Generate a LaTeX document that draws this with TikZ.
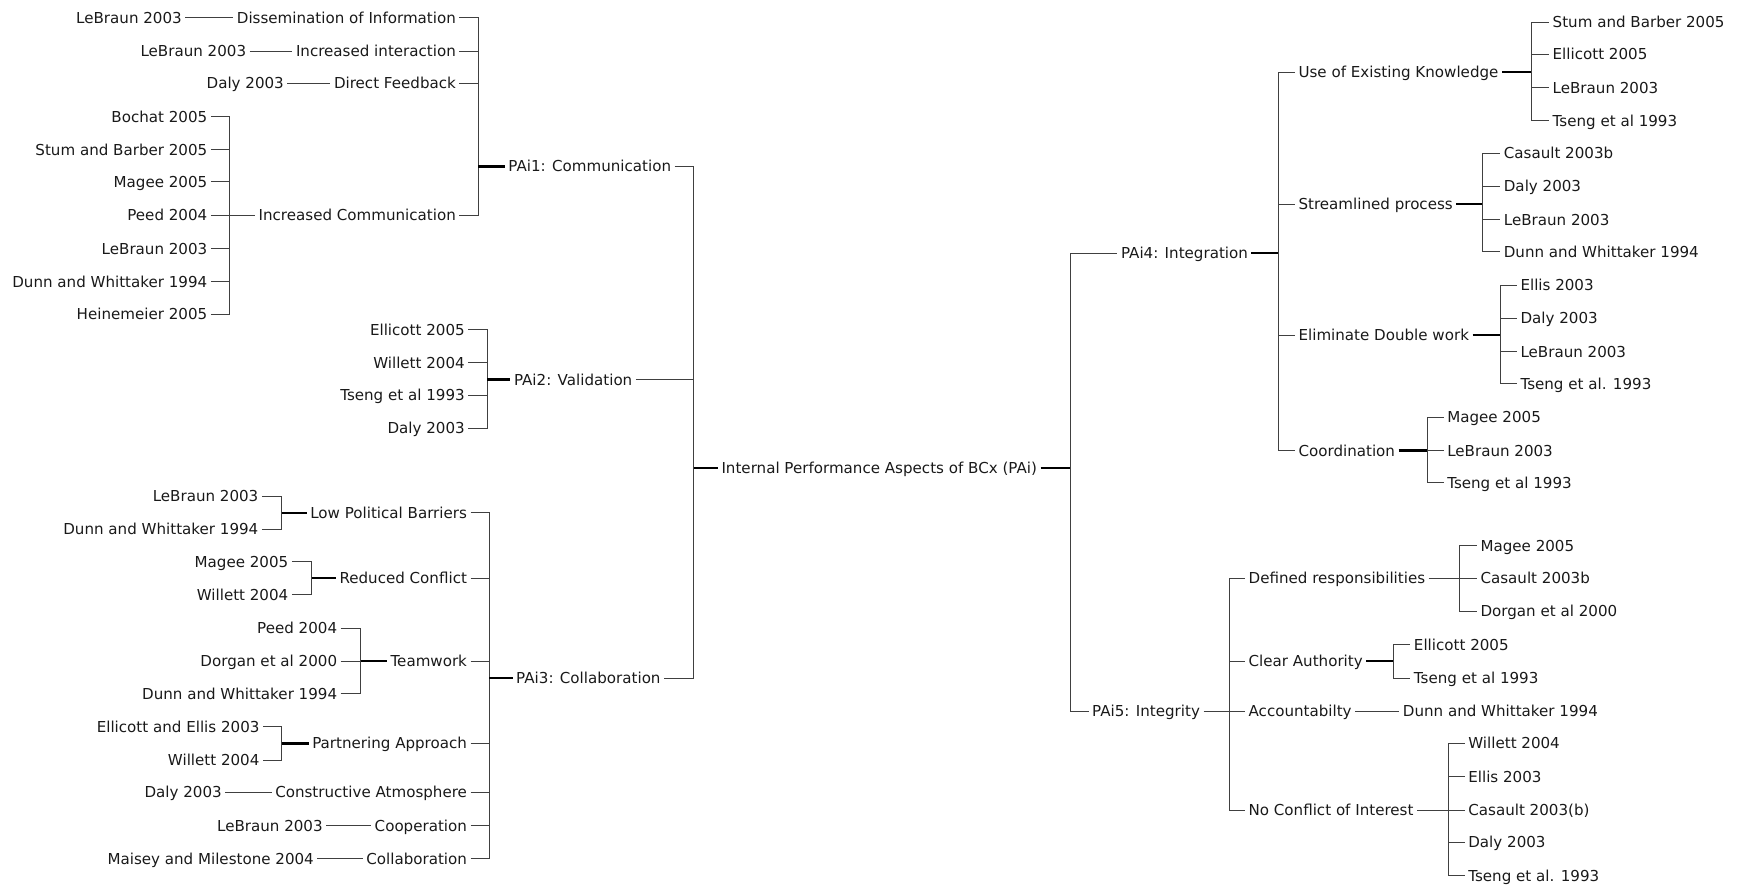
\documentclass[tikz,border=0pt]{standalone}
\usepackage{fontspec}
\setmainfont{DejaVu Sans}
\begin{document}
\begin{tikzpicture}[x=1pt,y=-1pt,
  lbl/.style={font=\fontsize{13.6}{16}\selectfont, text=black!90, inner xsep=3pt, inner ysep=0pt, text height=9.9pt, text depth=0pt},
  L/.style={lbl, anchor=east},
  R/.style={lbl, anchor=west},
  ln/.style={draw=black!75, line width=0.9pt},
  thk/.style={draw=black, line width=2pt}]
\useasboundingbox (0,0) rectangle (1568,800);

% ---------- PAi1: Communication ----------
\node[L] (disr) at (167,16) {LeBraun 2003};
\node[L] (dis)  at (414,16) {Dissemination of Information};
\node[L] (intr) at (225,46) {LeBraun 2003};
\node[L] (int)  at (414,46) {Increased interaction};
\node[L] (dfbr) at (259,75) {Daly 2003};
\node[L] (dfb)  at (414,75) {Direct Feedback};
\node[L] (icr1) at (190,105) {Bochat 2005};
\node[L] (icr2) at (190,135) {Stum and Barber 2005};
\node[L] (icr3) at (190,164) {Magee 2005};
\node[L] (icr4) at (190,194) {Peed 2004};
\node[L] (icr5) at (190,224) {LeBraun 2003};
\node[L] (icr6) at (190,254) {Dunn and Whittaker 1994};
\node[L] (icr7) at (190,283) {Heinemeier 2005};
\node[L] (ic)   at (414,194) {Increased Communication};
\coordinate (bic) at (207,0);
\coordinate (bp1) at (431,0);
\node[R] (pai1) at (455,150) {PAi1: Communication};

\draw[ln] (disr) -- (dis);
\draw[ln] (intr) -- (int);
\draw[ln] (dfbr) -- (dfb);
\foreach \c in {icr1,icr2,icr3,icr4,icr5,icr6,icr7}
  \draw[ln] (\c.east) -- (\c.east -| bic) -- (ic.west -| bic);
\draw[ln] (ic.west -| bic) -- (ic.west);
\foreach \c in {dis,int,dfb,ic}
  \draw[ln] (\c.east) -- (\c.east -| bp1) -- (pai1.west -| bp1);
\draw[thk] (pai1.west -| bp1) -- (pai1.west);

% ---------- PAi2: Validation ----------
\node[L] (va1) at (422,297) {Ellicott 2005};
\node[L] (va2) at (422,327) {Willett 2004};
\node[L] (va3) at (422,356) {Tseng et al 1993};
\node[L] (va4) at (422,386) {Daly 2003};
\coordinate (bp2) at (439,0);
\node[R] (pai2) at (460,342) {PAi2: Validation};
\foreach \c in {va1,va2,va3,va4}
  \draw[ln] (\c.east) -- (\c.east -| bp2) -- (pai2.west -| bp2);
\draw[thk] (pai2.west -| bp2) -- (pai2.west);

% ---------- PAi3: Collaboration ----------
\node[L] (lpb) at (424,462) {Low Political Barriers};
\node[L] (rco) at (424,521) {Reduced Conflict};
\node[L] (tmw) at (424,596) {Teamwork};
\node[L] (pap) at (424,670) {Partnering Approach};
\node[L] (cat) at (424,714) {Constructive Atmosphere};
\node[L] (coo) at (424,744) {Cooperation};
\node[L] (col) at (424,774) {Collaboration};
\coordinate (bp3) at (441,0);
\node[R] (pai3) at (462,611) {PAi3: Collaboration};

\node[L] (lpb1) at (236,447) {LeBraun 2003};
\node[L] (lpb2) at (236,477) {Dunn and Whittaker 1994};
\coordinate (blpb) at (254,0);
\node[L] (rco1) at (263,506) {Magee 2005};
\node[L] (rco2) at (263,536) {Willett 2004};
\coordinate (brco) at (281,0);
\node[L] (tmw1) at (307,566) {Peed 2004};
\node[L] (tmw2) at (307,596) {Dorgan et al 2000};
\node[L] (tmw3) at (307,625) {Dunn and Whittaker 1994};
\coordinate (btmw) at (325,0);
\node[L] (pap1) at (237,655) {Ellicott and Ellis 2003};
\node[L] (pap2) at (237,685) {Willett 2004};
\coordinate (bpap) at (254,0);
\node[L] (cat1) at (203,714) {Daly 2003};
\node[L] (coo1) at (294,744) {LeBraun 2003};
\node[L] (col1) at (286,774) {Maisey and Milestone 2004};

\foreach \c in {lpb1,lpb2}
  \draw[ln] (\c.east) -- (\c.east -| blpb) -- (lpb.west -| blpb);
\draw[thk] (lpb.west -| blpb) -- (lpb.west);
\foreach \c in {rco1,rco2}
  \draw[ln] (\c.east) -- (\c.east -| brco) -- (rco.west -| brco);
\draw[thk] (rco.west -| brco) -- (rco.west);
\foreach \c in {tmw1,tmw2,tmw3}
  \draw[ln] (\c.east) -- (\c.east -| btmw) -- (tmw.west -| btmw);
\draw[thk] (tmw.west -| btmw) -- (tmw.west);
\foreach \c in {pap1,pap2}
  \draw[ln] (\c.east) -- (\c.east -| bpap) -- (pap.west -| bpap);
\draw[thk] (pap.west -| bpap) -- (pap.west);
\draw[ln] (cat1) -- (cat);
\draw[ln] (coo1) -- (coo);
\draw[ln] (col1) -- (col);
\foreach \c in {lpb,rco,tmw,pap,cat,coo,col}
  \draw[ln] (\c.east) -- (\c.east -| bp3) -- (pai3.west -| bp3);
\draw[thk] (pai3.west -| bp3) -- (pai3.west);

% ---------- root ----------
\coordinate (b0) at (625,0);
\coordinate (bR) at (965,0);
\node[R] (root) at (647,422) {Internal Performance Aspects of BCx (PAi)};
\foreach \c in {pai1,pai2,pai3}
  \draw[ln] (\c.east) -- (\c.east -| b0) -- (root.west -| b0);
\draw[thk] (root.west -| b0) -- (root.west);
\draw[thk] (root.east) -- (root.east -| bR);

% ---------- PAi4: Integration ----------
\node[R] (pai4) at (1007,228) {PAi4: Integration};
\coordinate (bp4) at (1152,0);
\node[R] (uek) at (1167,65)  {Use of Existing Knowledge};
\node[R] (stp) at (1167,184) {Streamlined process};
\node[R] (edw) at (1167,302) {Eliminate Double work};
\node[R] (crd) at (1167,406) {Coordination};

\node[R] (uek1) at (1396,20)  {Stum and Barber 2005};
\node[R] (uek2) at (1396,49)  {Ellicott 2005};
\node[R] (uek3) at (1396,79)  {LeBraun 2003};
\node[R] (uek4) at (1396,109) {Tseng et al 1993};
\coordinate (buek) at (1380,0);
\node[R] (stp1) at (1352,138) {Casault 2003b};
\node[R] (stp2) at (1352,168) {Daly 2003};
\node[R] (stp3) at (1352,198) {LeBraun 2003};
\node[R] (stp4) at (1352,227) {Dunn and Whittaker 1994};
\coordinate (bstp) at (1336,0);
\node[R] (edw1) at (1367,257) {Ellis 2003};
\node[R] (edw2) at (1367,287) {Daly 2003};
\node[R] (edw3) at (1367,317) {LeBraun 2003};
\node[R] (edw4) at (1367,346) {Tseng et al. 1993};
\coordinate (bedw) at (1352,0);
\node[R] (crd1) at (1301,376) {Magee 2005};
\node[R] (crd2) at (1301,406) {LeBraun 2003};
\node[R] (crd3) at (1301,435) {Tseng et al 1993};
\coordinate (bcrd) at (1286,0);

\draw[thk] (pai4.east) -- (pai4.east -| bp4);
\foreach \c in {uek,stp,edw,crd}
  \draw[ln] (pai4.east -| bp4) -- (\c.west -| bp4) -- (\c.west);
\draw[thk] (uek.east) -- (uek.east -| buek);
\foreach \c in {uek1,uek2,uek3,uek4}
  \draw[ln] (uek.east -| buek) -- (\c.west -| buek) -- (\c.west);
\draw[thk] (stp.east) -- (stp.east -| bstp);
\foreach \c in {stp1,stp2,stp3,stp4}
  \draw[ln] (stp.east -| bstp) -- (\c.west -| bstp) -- (\c.west);
\draw[thk] (edw.east) -- (edw.east -| bedw);
\foreach \c in {edw1,edw2,edw3,edw4}
  \draw[ln] (edw.east -| bedw) -- (\c.west -| bedw) -- (\c.west);
\draw[thk] (crd.east) -- (crd.east -| bcrd);
\foreach \c in {crd1,crd2,crd3}
  \draw[ln] (crd.east -| bcrd) -- (\c.west -| bcrd) -- (\c.west);

% ---------- PAi5: Integrity ----------
\node[R] (pai5) at (981,641) {PAi5: Integrity};
\coordinate (bp5) at (1108,0);
\node[R] (dre) at (1122,521) {Defined responsibilities};
\node[R] (cau) at (1122,596) {Clear Authority};
\node[R] (acc) at (1122,641) {Accountabilty};
\node[R] (nci) at (1122,730) {No Conflict of Interest};

\node[R] (dre1) at (1331,492) {Magee 2005};
\node[R] (dre2) at (1331,521) {Casault 2003b};
\node[R] (dre3) at (1331,551) {Dorgan et al 2000};
\coordinate (bdre) at (1315,0);
\node[R] (cau1) at (1271,581) {Ellicott 2005};
\node[R] (cau2) at (1271,611) {Tseng et al 1993};
\coordinate (bcau) at (1256,0);
\node[R] (acc1) at (1261,641) {Dunn and Whittaker 1994};
\node[R] (nci1) at (1320,670) {Willett 2004};
\node[R] (nci2) at (1320,700) {Ellis 2003};
\node[R] (nci3) at (1320,730) {Casault 2003(b)};
\node[R] (nci4) at (1320,759) {Daly 2003};
\node[R] (nci5) at (1320,789) {Tseng et al. 1993};
\coordinate (bnci) at (1305,0);

\foreach \c in {pai4,pai5}
  \draw[ln] (root.east -| bR) -- (\c.west -| bR) -- (\c.west);
\draw[ln] (pai5.east) -- (pai5.east -| bp5);
\foreach \c in {dre,cau,acc,nci}
  \draw[ln] (pai5.east -| bp5) -- (\c.west -| bp5) -- (\c.west);
\draw[ln] (dre.east) -- (dre.east -| bdre);
\foreach \c in {dre1,dre2,dre3}
  \draw[ln] (dre.east -| bdre) -- (\c.west -| bdre) -- (\c.west);
\draw[thk] (cau.east) -- (cau.east -| bcau);
\foreach \c in {cau1,cau2}
  \draw[ln] (cau.east -| bcau) -- (\c.west -| bcau) -- (\c.west);
\draw[ln] (acc) -- (acc1);
\draw[ln] (nci.east) -- (nci.east -| bnci);
\foreach \c in {nci1,nci2,nci3,nci4,nci5}
  \draw[ln] (nci.east -| bnci) -- (\c.west -| bnci) -- (\c.west);
\end{tikzpicture}
\end{document}
